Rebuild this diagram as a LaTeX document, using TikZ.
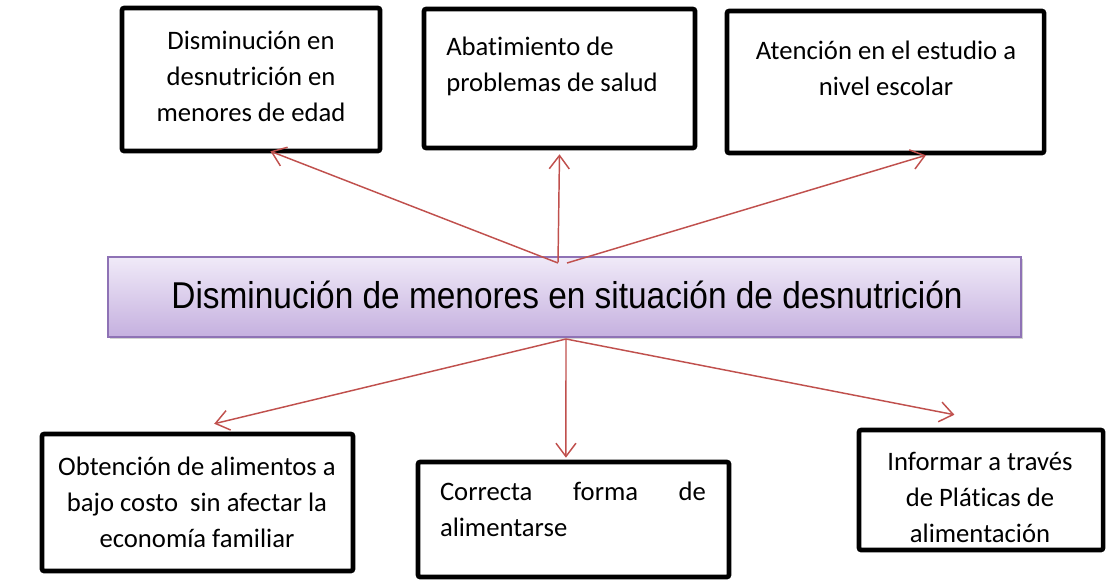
\documentclass[tikz,border=0pt]{standalone}
\usepackage{fontspec}
\setmainfont{Carlito}[Ligatures=NoCommon]
\newfontfamily\ctrfont{Liberation Sans}
\usetikzlibrary{arrows.meta,calc,shadows}
\definecolor{arrred}{HTML}{C0504D}
\definecolor{lavtop}{HTML}{F0EAF8}
\definecolor{lavbot}{HTML}{C5B0DF}
\definecolor{lavborder}{HTML}{8E72B5}
\begin{document}
\begin{tikzpicture}[x=0.75pt,y=-0.75pt,
  outbox/.style={draw=black,line width=3.4pt,rounded corners=1.5pt,inner sep=0pt},
  lbl/.style={font=\fontsize{20}{27}\selectfont,inner sep=0pt,align=center},
  arr/.style={draw=arrred,line width=1.1pt,-{Straight Barb[length=10pt,width=15pt]}}]
\useasboundingbox (0,0) rectangle (1109,579);
% boxes
\node[outbox,minimum width={258*0.75pt},minimum height={143*0.75pt}] (b1) at (251,79.5) {};
\node[outbox,minimum width={271*0.75pt},minimum height={139*0.75pt}] (b2) at (559.5,78.5) {};
\node[outbox,minimum width={317*0.75pt},minimum height={142*0.75pt}] (b3) at (885.5,82) {};
\node[outbox,minimum width={311*0.75pt},minimum height={137*0.75pt}] (b4) at (197.5,502.5) {};
\node[outbox,minimum width={311*0.75pt},minimum height={115*0.75pt}] (b5) at (573.5,519.5) {};
\node[outbox,minimum width={244*0.75pt},minimum height={120*0.75pt}] (b6) at (981,490) {};
\node[draw=lavborder,line width=1pt,top color=lavtop,bottom color=lavbot,
  drop shadow={shadow xshift=1.5pt,shadow yshift=-1.5pt,opacity=0.35},
  minimum width={913*0.75pt},minimum height={80*0.75pt},inner sep=0pt] (c) at (564.5,297) {};
% texts
\node[lbl] (t1) at (251,76) {Disminución en\\desnutrición en\\menores de edad};
\node[lbl,align=left,anchor=west] (t2) at (446,66) {Abatimiento de\\problemas de salud};
\node[lbl] (t3) at (886,68) {Atención en el estudio a\\nivel escolar};
\node[lbl] (t4) at (197,502) {Obtención de alimentos a\\bajo costo\ \ sin afectar la\\economía familiar};
\node[lbl,align=left,text width={266*0.75pt}] (t5) at (573,509) {Correcta\hfill forma\hfill de\\alimentarse};
\node[lbl] (t6) at (980,497) {Informar a través\\de Pláticas de\\alimentación};
\node[inner sep=0pt,font=\ctrfont\fontsize{28}{32}\selectfont] (tc) at (567,295) {\scalebox{0.895}[1]{Disminución de menores en situación de desnutrición}};
% connectors
\coordinate (s1) at (558,263);
\coordinate (s2) at (567,263);
\coordinate (s3) at (566,339);
\draw[arr] (s1) -- ($(b1.south west)!0.574!(b1.south east)+(0,-2)$);
\draw[arr] (s1 |- c.north) ++(0,6) -- ($(b2.south west)!0.5!(b2.south east)+(0,4)$);
\draw[arr] (s2) -- ($(b3.south west)!0.626!(b3.south east)$);
\draw[arr] (s3) -- ($(b4.north west)!0.553!(b4.north east)+(0,-8)$);
\draw[arr] (s3) -- ($(b5.north west)!0.476!(b5.north east)+(0,-2)$);
\draw[arr] (s3) -- ($(b6.north west)!0.393!(b6.north east)+(0,-13)$);
\end{tikzpicture}
\end{document}
